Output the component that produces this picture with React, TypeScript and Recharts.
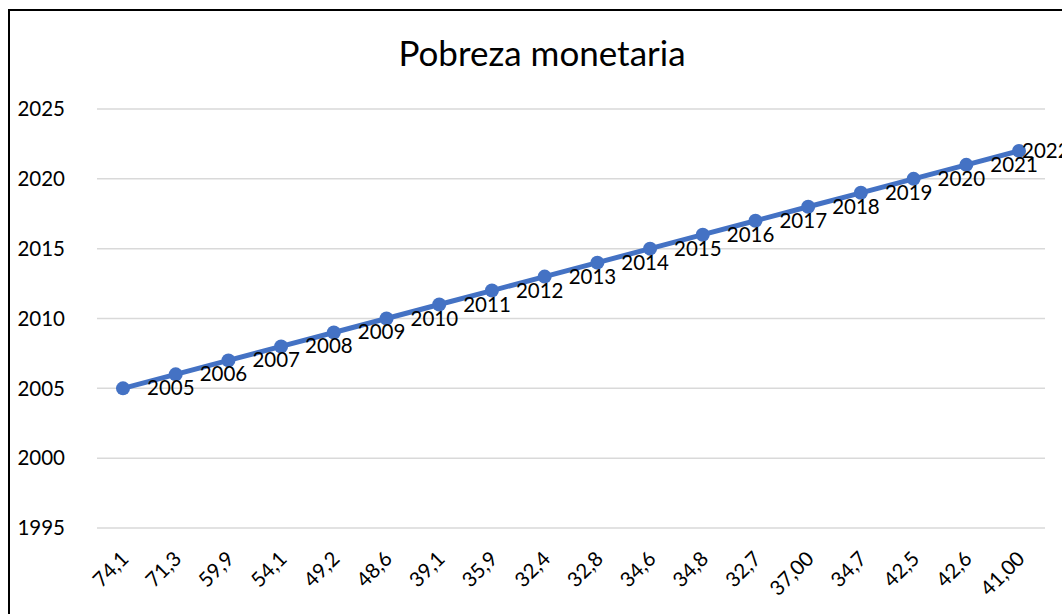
import { LineChart, Line, XAxis, YAxis, CartesianGrid, LabelList } from 'recharts';

// Pobreza monetaria (%) shown as the category axis, year plotted as the value
const povertyLabels = [
  '74,1', '71,3', '59,9', '54,1', '49,2', '48,6', '39,1', '35,9', '32,4',
  '32,8', '34,6', '34,8', '32,7', '37,00', '34,7', '42,5', '42,6', '41,00',
];
const years = [
  2005, 2006, 2007, 2008, 2009, 2010, 2011, 2012, 2013,
  2014, 2015, 2016, 2017, 2018, 2019, 2020, 2021, 2022,
];
const yTicks = [1995, 2000, 2005, 2010, 2015, 2020, 2025];

const chartData = povertyLabels.map((label, i) => ({ label, year: years[i] }));

const WIDTH = 1062;
const HEIGHT = 614;
const FONT = 'Lato, Carlito, Calibri, sans-serif';
const BLUE = '#4472C4';

const RotatedTick = (props: any) => {
  const { x, y, payload } = props;
  const ax = x + 7;
  const ay = y;
  return (
    <text
      x={ax}
      y={ay}
      textAnchor="end"
      fontSize={20.5}
      fontFamily={FONT}
      fill="#000"
      transform={`rotate(-45 ${ax} ${ay})`}
    >
      {payload.value}
    </text>
  );
};

const YearLabel = (props: any) => {
  const { x, y, value } = props;
  // keep the label inside the chart like Excel does
  const lx = Math.min(x + 24, WIDTH - 40);
  return (
    <text
      x={lx}
      y={y}
      dy={7}
      textAnchor="start"
      fontSize={20.5}
      fontFamily={FONT}
      fill="#000"
    >
      {value}
    </text>
  );
};

export default function App() {
  return (
    <div
      style={{
        position: 'fixed',
        left: 0,
        top: 0,
        width: WIDTH,
        height: HEIGHT,
        overflow: 'hidden',
        background: '#fff',
      }}
    >
      <div
        style={{
          position: 'absolute',
          left: 8,
          top: 9,
          width: WIDTH,
          height: HEIGHT,
          borderLeft: '2px solid #000',
          borderTop: '2px solid #000',
        }}
      />
      <div
        style={{
          position: 'absolute',
          left: 342,
          top: 29,
          width: 400,
          textAlign: 'center',
          fontFamily: FONT,
          fontSize: 35,
          color: '#000',
          lineHeight: '46px',
        }}
      >
        Pobreza monetaria
      </div>
      <div style={{ position: 'absolute', left: 0, top: 0 }}>
        <LineChart
          width={WIDTH}
          height={HEIGHT}
          data={chartData}
          margin={{ top: 109, right: 17, left: 0, bottom: 0 }}
        >
          <CartesianGrid vertical={false} stroke="#d9d9d9" strokeWidth={1.5} />
          <XAxis
            dataKey="label"
            axisLine={false}
            tickLine={false}
            interval={0}
            height={86}
            padding={{ left: 26, right: 26 }}
            tick={<RotatedTick />}
            tickMargin={26}
          />
          <YAxis
            domain={[1995, 2025]}
            ticks={yTicks}
            width={97}
            axisLine={false}
            tickLine={false}
            tickSize={0}
            tickMargin={32}
            tick={{ fontSize: 20.5, fontFamily: FONT, fill: '#000' }}
          />
          <Line
            type="linear"
            dataKey="year"
            stroke={BLUE}
            strokeWidth={5}
            dot={{ r: 7, fill: BLUE, stroke: BLUE, strokeWidth: 0 }}
            isAnimationActive={false}
          >
            <LabelList dataKey="year" content={<YearLabel />} />
          </Line>
        </LineChart>
      </div>
    </div>
  );
}
